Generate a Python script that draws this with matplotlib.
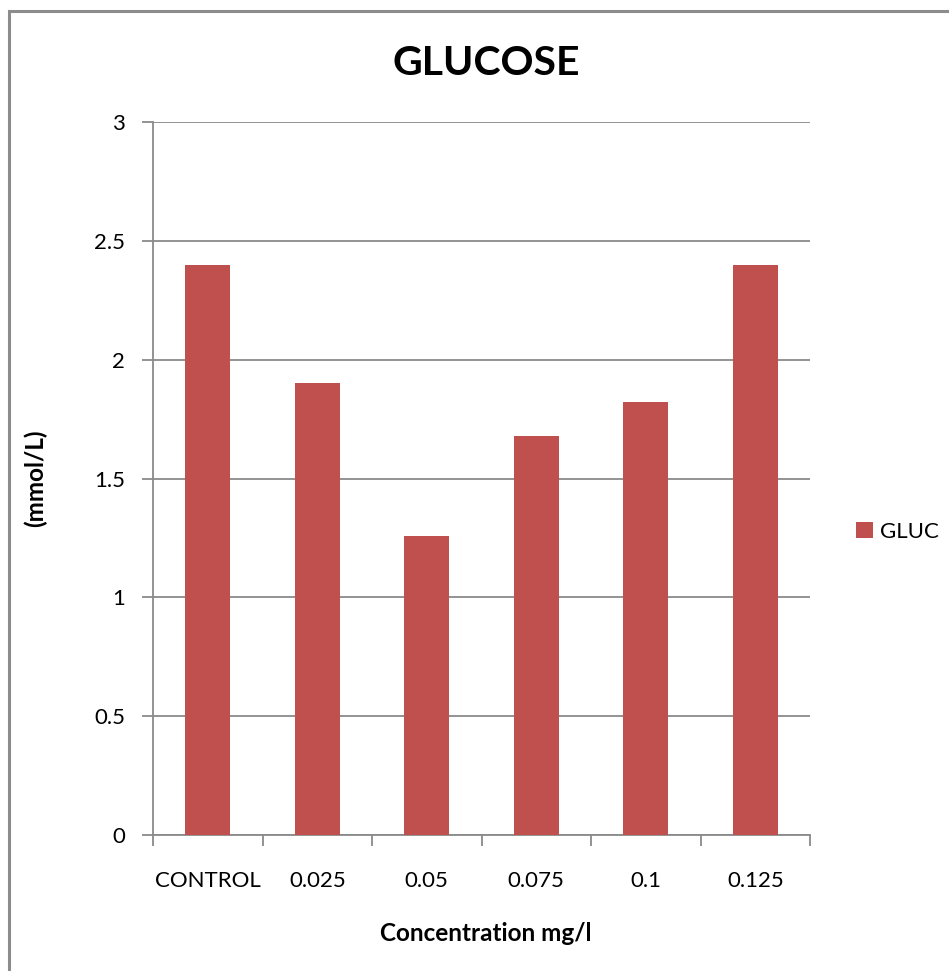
import matplotlib.pyplot as plt
from matplotlib.patches import Rectangle

plt.rcParams['font.family'] = ['Lato', 'DejaVu Sans']

categories = ['CONTROL', '0.025', '0.05', '0.075', '0.1', '0.125']
gluc = [2.4, 1.9, 1.26, 1.68, 1.82, 2.4]
yticks = [0, 0.5, 1, 1.5, 2, 2.5, 3]

fig = plt.figure(figsize=(9.49, 9.71), dpi=100)
ax = fig.add_axes([153 / 949, 1 - 835 / 971, (810 - 153) / 949, (835 - 122) / 971])

# chart frame (left/top edges visible only)
fig.patches.append(Rectangle((8.5 / 949, -0.1), 1.2, 1 - 11.5 / 971 + 0.1,
                             transform=fig.transFigure, fill=False,
                             edgecolor='#8c8c8c', linewidth=2.2))

x = list(range(len(categories)))
ax.bar(x, gluc, width=0.41, color='#C0504D', label='GLUC', zorder=3)

ax.set_xlim(-0.5, len(categories) - 0.5)
ax.set_ylim(0, 3)
ax.set_yticks(yticks)
ax.set_yticklabels([f'{t:g}' for t in yticks])
ax.set_xticks(x)
ax.set_xticklabels(categories)
ax.set_xticks([i - 0.5 for i in range(len(categories) + 1)], minor=True)

ax.grid(axis='y', color='#8a8a8a', linewidth=1.3, zorder=0)
for s in ['top', 'right']:
    ax.spines[s].set_visible(False)
for s in ['left', 'bottom']:
    ax.spines[s].set_color('#8a8a8a')
    ax.spines[s].set_linewidth(1.3)

ax.tick_params(axis='y', length=8, width=1.3, color='#8a8a8a', labelsize=16, pad=12)
ax.tick_params(axis='x', which='major', length=0, labelsize=16, pad=26)
ax.tick_params(axis='x', which='minor', length=8, width=1.3, color='#8a8a8a')

ax.set_title('GLUCOSE', fontsize=29.5, fontweight='bold', pad=34, x=0.507)
ax.set_xlabel('Concentration mg/l', fontsize=17.5, fontweight='bold', labelpad=24)
ax.xaxis.set_label_coords(0.507, -0.122)
ax.set_ylabel('(mmol/L)', fontsize=17.5, fontweight='bold', labelpad=34)

ax.legend(loc='center left', bbox_to_anchor=(1.04, 0.425), frameon=False,
          fontsize=16, handlelength=0.75, handleheight=0.75, handletextpad=0.3)

fig.savefig('out.png', dpi=100)
